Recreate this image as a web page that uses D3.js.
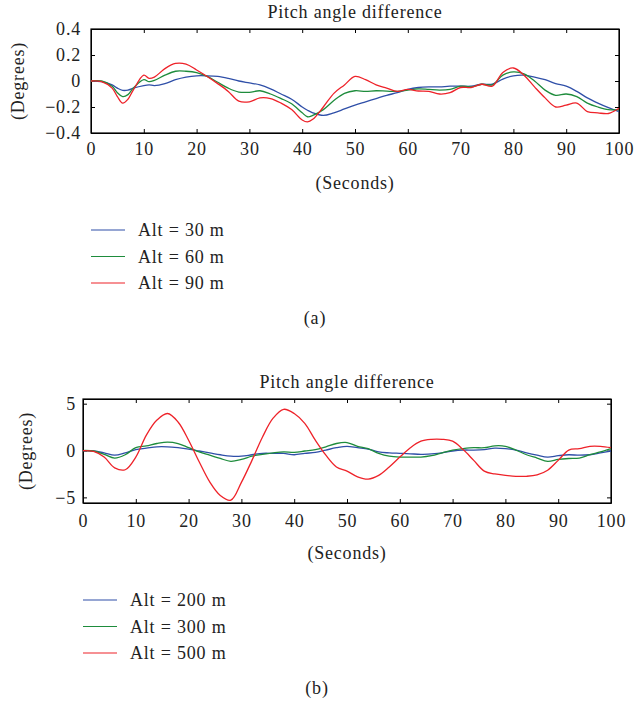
<!DOCTYPE html>
<html>
<head>
<meta charset="utf-8">
<script src="https://cdn.jsdelivr.net/npm/d3@7"></script>
<style>
	body { margin: 0; background: #fff; }
	svg { font-family: 'Liberation Serif', 'DejaVu Serif', serif; }
	.tick line, .domain { stroke: #000; }
</style>
</head>
<body>
<svg id="chart" width="634" height="702"></svg>
<script>
// panel (a) data
const timeA = [0, 2, 4, 5, 6, 7, 8, 10, 11, 12, 14, 16, 18, 20, 22, 24, 26, 28, 30, 32, 34, 36, 38, 40, 41, 42,
	44, 46, 48, 50, 52, 54, 56, 58, 60, 62, 64, 66, 68, 70, 72, 74, 76, 78, 80, 82, 84, 86, 88, 90, 92, 94, 96, 98, 100];
const alt30 = [0, -0.005, -0.03, -0.055, -0.072, -0.07, -0.055, -0.035, -0.03, -0.035, -0.02, 0.01, 0.03, 0.04, 0.04,
	0.035, 0.02, 0, -0.015, -0.03, -0.06, -0.1, -0.14, -0.2, -0.225, -0.245, -0.265, -0.245, -0.215, -0.185, -0.16,
	-0.135, -0.11, -0.09, -0.065, -0.05, -0.045, -0.045, -0.04, -0.04, -0.04, -0.025, -0.025, 0.015, 0.04, 0.045, 0.03,
	0.01, -0.02, -0.04, -0.08, -0.13, -0.17, -0.205, -0.235];
const alt60 = [0, 0, -0.04, -0.09, -0.12, -0.105, -0.055, 0.01, -0.005, 0.005, 0.045, 0.075, 0.075, 0.065, 0.035,
	-0.01, -0.055, -0.085, -0.087, -0.075, -0.1, -0.135, -0.175, -0.245, -0.275, -0.265, -0.22, -0.15, -0.095, -0.075,
	-0.08, -0.075, -0.078, -0.08, -0.07, -0.06, -0.065, -0.07, -0.065, -0.04, -0.045, -0.025, -0.03, 0.045, 0.07, 0.055,
	0, -0.07, -0.11, -0.1, -0.12, -0.17, -0.2, -0.22, -0.22];
const alt90 = [0, -0.005, -0.055, -0.12, -0.17, -0.14, -0.07, 0.045, 0.02, 0.03, 0.095, 0.135, 0.13, 0.085, 0.035,
	-0.02, -0.08, -0.155, -0.16, -0.13, -0.135, -0.17, -0.22, -0.3, -0.315, -0.295, -0.2, -0.095, -0.03, 0.035, 0.01,
	-0.03, -0.055, -0.08, -0.065, -0.077, -0.08, -0.1, -0.09, -0.05, -0.05, -0.025, -0.04, 0.065, 0.1, 0.045, -0.045,
	-0.13, -0.2, -0.185, -0.17, -0.235, -0.245, -0.25, -0.21];
const yTicksA = [-0.4, -0.2, 0, 0.2, 0.4];

// panel (b) data
const timeB = d3.range(0, 101, 2);
const alt200 = [0, -0.05, -0.25, -0.5, -0.25, 0.1, 0.25, 0.4, 0.4, 0.3, 0.15, -0.05, -0.25, -0.45, -0.6, -0.6, -0.45,
	-0.3, -0.3, -0.3, -0.45, -0.3, -0.2, 0.05, 0.3, 0.45, 0.3, 0.15, -0.15, -0.25, -0.3, -0.35, -0.4, -0.35, -0.25,
	-0.05, 0.05, 0.05, 0.1, 0.25, 0.2, 0.05, -0.25, -0.5, -0.7, -0.55, -0.45, -0.5, -0.45, -0.25, -0.05];
const alt300 = [0, -0.05, -0.4, -0.8, -0.45, 0.3, 0.5, 0.75, 0.9, 0.75, 0.3, -0.15, -0.5, -0.85, -1.15, -0.95, -0.6,
	-0.4, -0.25, -0.15, -0.2, -0.05, 0.1, 0.4, 0.75, 0.85, 0.45, 0.2, -0.3, -0.6, -0.7, -0.7, -0.7, -0.55, -0.25, 0.05,
	0.2, 0.3, 0.3, 0.5, 0.45, 0.05, -0.45, -0.8, -1.15, -0.95, -0.85, -0.8, -0.45, -0.15, 0.2];
const alt500 = [0, -0.1, -0.7, -1.85, -2.05, -0.7, 1.65, 3.25, 3.95, 3.05, 1.1, -1.2, -3.35, -4.8, -5.3, -3.4, -1.05,
	1.45, 3.45, 4.4, 3.95, 2.9, 1.1, -0.5, -1.75, -2.2, -2.8, -3.05, -2.65, -1.75, -0.7, 0.3, 1.0, 1.2, 1.2, 1.0, 0.1,
	-1.05, -2.2, -2.5, -2.65, -2.75, -2.75, -2.6, -2.1, -1.05, 0.05, 0.2, 0.45, 0.45, 0.3];
const yTicksB = [-5, 0, 5];

const xTicks = d3.range(0, 101, 10);
const colors = ['#2f4fa8', '#1e8c3c', '#ee2229'];

const svg = d3.select('#chart')
	.style('font-size', '18px')
	.style('letter-spacing', '0.8px');

function drawPanel(p) {
	const x = d3.scaleLinear().domain([0, 100]).range([p.left, p.right]);
	const y = d3.scaleLinear().domain(p.yDomain).range([p.bottom, p.top]);
	const g = svg.append('g');

	// axes on all four sides, ticks pointing inward
	const axes = [
		g.append('g').attr('transform', `translate(0,${p.bottom})`)
			.call(d3.axisBottom(x).tickValues(xTicks).tickSizeInner(-4).tickSizeOuter(0).tickPadding(p.xPad)),
		g.append('g').attr('transform', `translate(0,${p.top})`)
			.call(d3.axisTop(x).tickValues(xTicks).tickSizeInner(-4).tickSizeOuter(0).tickFormat('')),
		g.append('g').attr('transform', `translate(${p.left},0)`)
			.call(d3.axisLeft(y).tickValues(p.yTicks).tickSizeInner(-4).tickSizeOuter(0).tickPadding(p.yPad).tickFormat(p.fmt)),
		g.append('g').attr('transform', `translate(${p.right},0)`)
			.call(d3.axisRight(y).tickValues(p.yTicks).tickSizeInner(-4).tickSizeOuter(0).tickFormat(''))
	];
	axes.forEach(a => a.attr('font-family', null).attr('font-size', null));
	g.selectAll('.tick text').attr('fill', '#222');

	g.append('rect')
		.attr('x', p.left).attr('y', p.top)
		.attr('width', p.right - p.left).attr('height', p.bottom - p.top)
		.attr('fill', 'none').attr('stroke', '#000').attr('stroke-width', 1.2);

	const line = d3.line()
		.x((d, i) => x(p.time[i]))
		.y(d => y(d))
		.curve(d3.curveCatmullRom);
	p.series.forEach((s, i) => {
		g.append('path')
			.datum(s)
			.attr('fill', 'none')
			.attr('stroke', colors[i])
			.attr('stroke-width', 1.3)
			.attr('d', line);
	});

	// titles and axis labels
	g.append('text')
		.attr('x', (p.left + p.right) / 2).attr('y', p.top - 11)
		.attr('text-anchor', 'middle').attr('fill', '#222')
		.text('Pitch angle difference');
	g.append('text')
		.attr('x', (p.left + p.right) / 2).attr('y', p.bottom + 56)
		.attr('text-anchor', 'middle').attr('fill', '#222')
		.text('(Seconds)');
	g.append('text')
		.attr('transform', `translate(${p.yLabelX},${(p.top + p.bottom) / 2}) rotate(-90)`)
		.attr('text-anchor', 'middle').attr('fill', '#222')
		.text('(Degrees)');

	// legend
	p.names.forEach((name, i) => {
		const ly = p.legendY + i * 26.5;
		g.append('line')
			.attr('x1', p.legendX).attr('x2', p.legendX + 34)
			.attr('y1', ly).attr('y2', ly)
			.attr('stroke', colors[i]).attr('stroke-width', 1.2);
		g.append('text')
			.attr('x', p.legendX + 47).attr('y', ly + 6)
			.attr('fill', '#222')
			.text(name);
	});
	g.append('text')
		.attr('x', p.capX).attr('y', p.capY)
		.attr('text-anchor', 'middle').attr('fill', '#222')
		.text(p.caption);
}

drawPanel({
	left: 91, right: 619, top: 29, bottom: 133,
	yDomain: [-0.4, 0.4], yTicks: yTicksA, fmt: d3.format('.1~f'),
	xPad: 9, yPad: 10, yLabelX: 24,
	time: timeA, series: [alt30, alt60, alt90],
	names: ['Alt = 30 m', 'Alt = 60 m', 'Alt = 90 m'],
	legendX: 91, legendY: 230,
	caption: '(a)', capX: 315, capY: 324
});

drawPanel({
	left: 83, right: 611, top: 399, bottom: 503,
	yDomain: [-5.6, 5.5], yTicks: yTicksB, fmt: d3.format('d'),
	xPad: 11, yPad: 7, yLabelX: 32,
	time: timeB, series: [alt200, alt300, alt500],
	names: ['Alt = 200 m', 'Alt = 300 m', 'Alt = 500 m'],
	legendX: 83, legendY: 600,
	caption: '(b)', capX: 317, capY: 694
});
</script>
</body>
</html>
